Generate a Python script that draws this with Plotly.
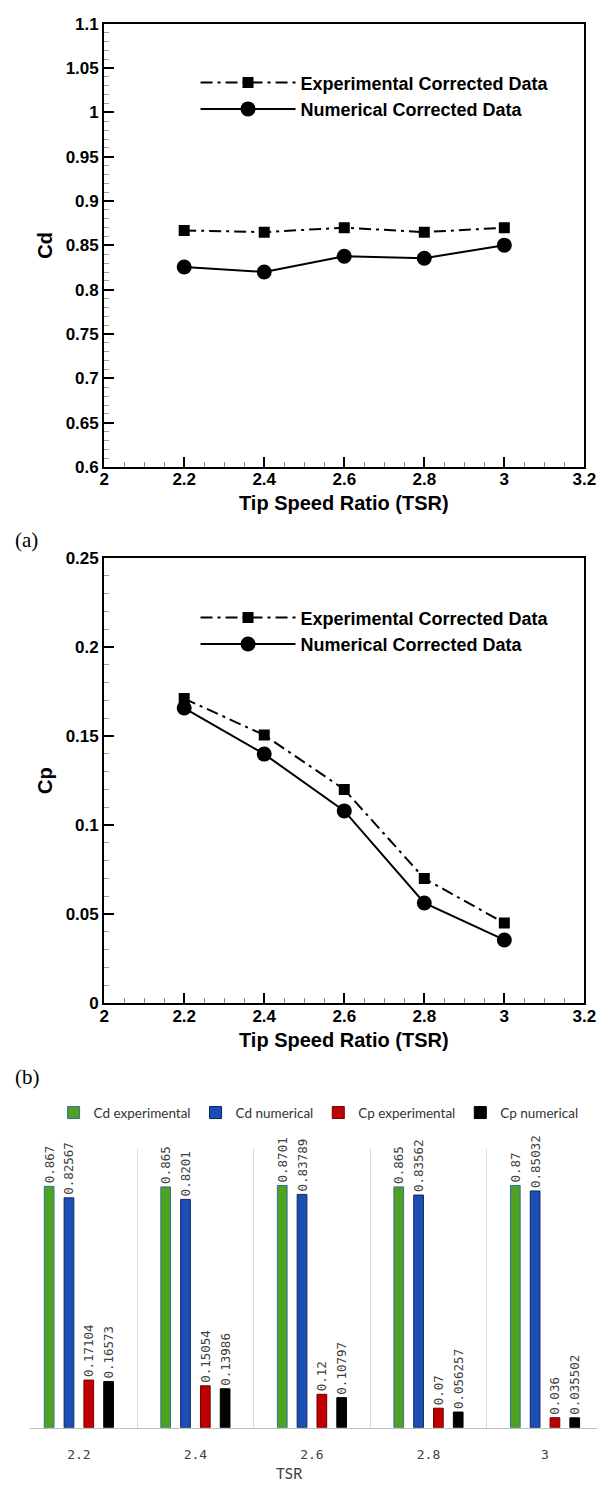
import plotly.graph_objects as go

# ---------------- data ----------------
tsr = [2.2, 2.4, 2.6, 2.8, 3.0]
cd_exp = [0.867, 0.865, 0.8701, 0.865, 0.87]
cd_num = [0.82567, 0.8201, 0.83789, 0.83562, 0.85032]
cp_exp_line = [0.17104, 0.15054, 0.12, 0.07, 0.045]
cp_num = [0.16573, 0.13986, 0.10797, 0.056257, 0.035502]

bar_categories = ["2.2", "2.4", "2.6", "2.8", "3"]
bar_cd_exp = [0.867, 0.865, 0.8701, 0.865, 0.87]
bar_cd_num = [0.82567, 0.8201, 0.83789, 0.83562, 0.85032]
bar_cp_exp = [0.17104, 0.15054, 0.12, 0.07, 0.036]
bar_cp_num = [0.16573, 0.13986, 0.10797, 0.056257, 0.035502]

W, H = 609, 1493
def px(x): return x / W
def py(y): return 1 - y / H

BOLD = dict(family="Liberation Sans, Arial", color="black", weight="bold")
EXP_DASH = "12px,5px,3px,5px"

fig = go.Figure()

# ---------------- panel (a) and (b) line charts ----------------
for i, (ye, yn, leg) in enumerate([(cd_exp, cd_num, "legend"), (cp_exp_line, cp_num, "legend2")]):
    xa = "x" if i == 0 else "x2"
    ya = "y" if i == 0 else "y2"
    fig.add_trace(go.Scatter(
        x=tsr, y=ye, mode="lines+markers", name="Experimental Corrected Data",
        line=dict(color="black", width=2, dash=EXP_DASH),
        marker=dict(symbol="square", size=11, color="black"),
        xaxis=xa, yaxis=ya, legend=leg, showlegend=True))
    fig.add_trace(go.Scatter(
        x=tsr, y=yn, mode="lines+markers", name="Numerical Corrected Data",
        line=dict(color="black", width=2),
        marker=dict(symbol="circle", size=15, color="black"),
        xaxis=xa, yaxis=ya, legend=leg, showlegend=True))

def line_xaxis(anchor):
    return dict(domain=[px(102), px(596)], anchor=anchor, range=[2, 3.2],
                tick0=2, dtick=0.2, ticks="inside", ticklen=10, tickwidth=2,
                tickcolor="black", showline=True, linewidth=2, linecolor="black",
                mirror=True, showgrid=False, zeroline=False,
                ticklabelstandoff=-4,
                tickfont=dict(size=17, **BOLD),
                minor=dict(dtick=0.05, ticks="inside", ticklen=5,
                           tickcolor="#8a8a8a", tickwidth=1, showgrid=False))

def line_yaxis(anchor, dom, rng):
    return dict(domain=dom, anchor=anchor, range=rng, tick0=rng[0], dtick=0.05,
                ticks="inside", ticklen=10, tickwidth=2, tickcolor="black",
                showline=True, linewidth=2, linecolor="black", mirror=True,
                showgrid=False, zeroline=False,
                tickfont=dict(size=17, **BOLD),
                minor=dict(dtick=0.01, ticks="inside", ticklen=5,
                           tickcolor="#a0a0a0", tickwidth=1, showgrid=False))

# ---------------- bar chart ----------------
bar_specs = [
    ("Cd experimental", bar_cd_exp, "#4fa21f", "#2f6f9a"),
    ("Cd numerical", bar_cd_num, "#1c4fb4", "#0c2560"),
    ("Cp experimental", bar_cp_exp, "#c00000", "#6e0000"),
    ("Cp numerical", bar_cp_num, "#000000", "#000000"),
]
for name, vals, fill, edge in bar_specs:
    fig.add_trace(go.Bar(
        x=bar_categories, y=vals, name=name,
        marker=dict(color=fill, line=dict(color=edge, width=1)),
        text=[str(v) for v in vals], textposition="outside", textangle=-90,
        constraintext="none", cliponaxis=False,
        textfont=dict(family="DejaVu Sans Mono", size=12.5, color="#404040"),
        xaxis="x3", yaxis="y3", legend="legend3"))

fig.update_layout(
    width=W, height=H, margin=dict(l=0, r=0, t=0, b=0),
    paper_bgcolor="white", plot_bgcolor="white",
    barmode="group", bargap=0.32, bargroupgap=0.51,
    xaxis=line_xaxis("y"),
    yaxis=line_yaxis("x", [py(464), py(15)], [0.6, 1.1]),
    xaxis2=line_xaxis("y2"),
    yaxis2=line_yaxis("x2", [py(1007), py(556)], [0, 0.25]),
    xaxis3=dict(domain=[px(26), 1.0], anchor="y3", type="category",
                range=[-0.417, 4.446], tickson="boundaries", ticks="",
                showgrid=True, gridcolor="#d9d9d9", gridwidth=1,
                showline=True, linecolor="#bfbfbf", linewidth=1,
                zeroline=False, ticklabelstandoff=15,
                tickfont=dict(family="DejaVu Sans Mono", size=13, color="#404040")),
    yaxis3=dict(domain=[py(1437), py(1155)], anchor="x3", range=[0, 1.0],
                visible=False, showgrid=False, zeroline=False),
    legend=dict(x=px(196), y=py(56), xanchor="left", yanchor="top",
                bgcolor="rgba(0,0,0,0)", font=dict(size=18, **BOLD),
                itemwidth=95, tracegroupgap=0),
    legend2=dict(x=px(196), y=py(598), xanchor="left", yanchor="top",
                 bgcolor="rgba(0,0,0,0)", font=dict(size=18, **BOLD),
                 itemwidth=95, tracegroupgap=0),
    legend3=dict(orientation="h", x=px(50), y=py(1118), xanchor="left",
                 yanchor="middle", bgcolor="rgba(0,0,0,0)", itemwidth=30,
                 font=dict(family="Lato, Roboto", size=13.5, color="#333333")),
)

annots = [
    dict(text="Tip Speed Ratio (TSR)", x=px(349), y=py(500), font=dict(size=20, **BOLD)),
    dict(text="Tip Speed Ratio (TSR)", x=px(349), y=py(1044), font=dict(size=20, **BOLD)),
    dict(text="Cd", x=px(41), y=py(239), textangle=-90, font=dict(size=20, **BOLD)),
    dict(text="Cp", x=px(41), y=py(781), textangle=-90, font=dict(size=20, **BOLD)),
    dict(text="(a)", x=px(8), y=py(538), xanchor="left",
         font=dict(family="Liberation Serif, Times New Roman", size=21, color="black")),
    dict(text="(b)", x=px(8), y=py(1082), xanchor="left",
         font=dict(family="Liberation Serif, Times New Roman", size=21, color="black")),
    dict(text="TSR", x=px(293), y=py(1483),
         font=dict(family="Lato, Roboto", size=15, color="#404040")),
]
for a in annots:
    a.setdefault("xanchor", "center")
    fig.add_annotation(xref="paper", yref="paper", showarrow=False,
                       yanchor="middle", **a)

fig.write_html("out.html")
